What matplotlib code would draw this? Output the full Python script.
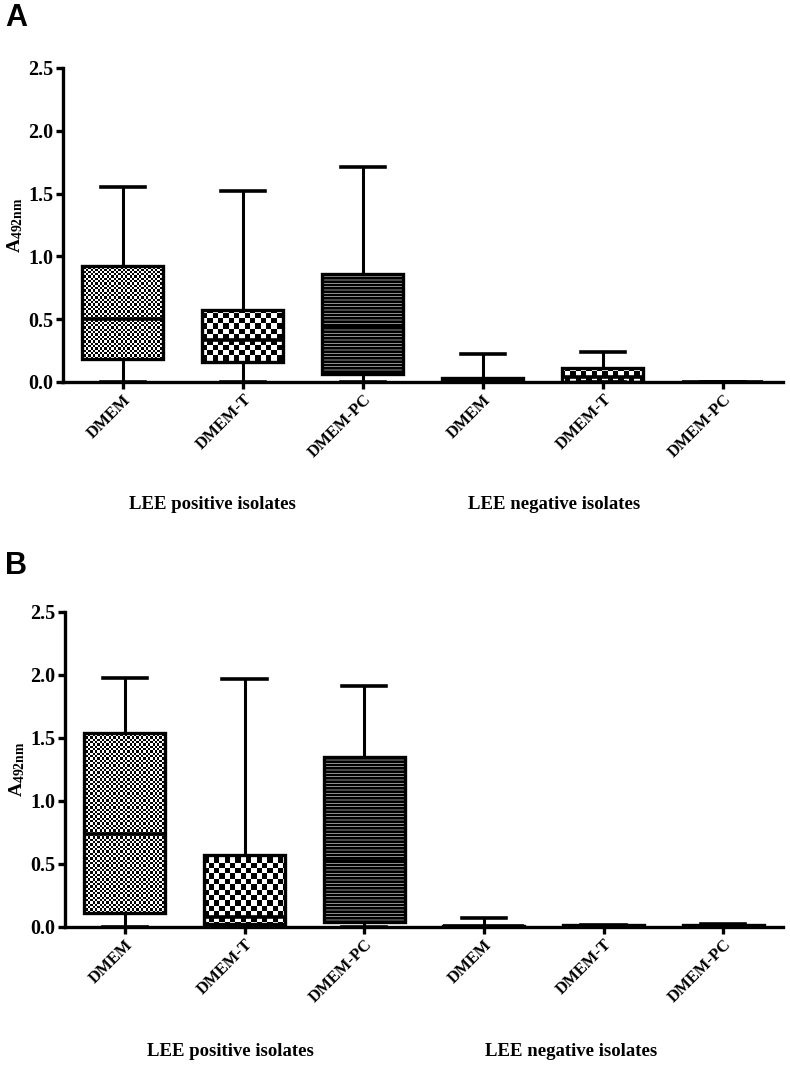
import numpy as np
import matplotlib
matplotlib.use('Agg')
import matplotlib.pyplot as plt

plt.rcParams['font.family'] = 'Liberation Serif'
plt.rcParams['font.weight'] = 'bold'
plt.rcParams['mathtext.fontset'] = 'custom'
plt.rcParams['mathtext.rm'] = 'Liberation Serif:bold'
plt.rcParams['mathtext.bf'] = 'Liberation Serif:bold'
plt.rcParams['hatch.linewidth'] = 2.0

cats = ['DMEM', 'DMEM-T', 'DMEM-PC', 'DMEM', 'DMEM-T', 'DMEM-PC']
groups = ['LEE positive isolates', 'LEE negative isolates']
fills = ['fine', 'coarse', 'lines', 'fine', 'coarse', 'lines']

# panel A box stats
A_lo = [0.0, 0.0, 0.0, 0.0, 0.0, 0.0]
A_q1 = [0.18, 0.16, 0.06, 0.0, 0.0, 0.0]
A_med = [0.50, 0.33, 0.44, 0.01, 0.04, 0.0]
A_q3 = [0.92, 0.57, 0.86, 0.03, 0.11, 0.0]
A_hi = [1.55, 1.52, 1.71, 0.22, 0.24, 0.0]

# panel B box stats
B_lo = [0.0, 0.0, 0.0, 0.0, 0.0, 0.0]
B_q1 = [0.11, 0.02, 0.04, 0.0, 0.0, 0.0]
B_med = [0.74, 0.08, 0.52, 0.005, 0.005, 0.005]
B_q3 = [1.54, 0.57, 1.35, 0.01, 0.012, 0.015]
B_hi = [1.98, 1.97, 1.91, 0.07, 0.015, 0.025]

yticks = [0.0, 0.5, 1.0, 1.5, 2.0, 2.5]


def checker(ax, patch, cell):
    bb = ax.get_window_extent()
    nx = int(bb.width / cell)
    ny = int(bb.height / cell)
    img = np.add.outer(np.arange(ny), np.arange(nx)) % 2
    xl, yl = ax.get_xlim(), ax.get_ylim()
    im = ax.imshow(img, cmap='gray', vmin=0, vmax=1, origin='lower',
                   extent=(xl[0], xl[1], yl[0], yl[1]), aspect='auto',
                   interpolation='nearest', zorder=2.5)
    im.set_clip_path(patch)
    ax.set_xlim(xl)
    ax.set_ylim(yl)


def panel(rect, lo, q1, med, q3, hi, letter, letter_y, grp_x, grp_y):
    ax = fig.add_axes(rect)
    ax.set_xlim(0.5, 6.5)
    ax.set_ylim(0, 2.5)
    stats = [dict(whislo=a, q1=b, med=c, q3=d, whishi=e)
             for a, b, c, d, e in zip(lo, q1, med, q3, hi)]
    pos = np.arange(1, len(cats) + 1)
    bp = ax.bxp(stats, positions=pos, widths=0.675, capwidths=0.37,
                showfliers=False, patch_artist=True, zorder=3,
                boxprops=dict(linewidth=2.4, edgecolor='black'),
                whiskerprops=dict(linewidth=2.2, color='black'),
                capprops=dict(linewidth=2.6, color='black'),
                medianprops=dict(linewidth=2.6, color='black'))
    for box, f in zip(bp['boxes'], fills):
        if f == 'lines':
            box.set_facecolor('white')
            box.set_hatch('-----')
        else:
            box.set_facecolor('none')
            checker(ax, box, 2.3 if f == 'fine' else 5.3)
    for s in ['top', 'right']:
        ax.spines[s].set_visible(False)
    for s in ['left', 'bottom']:
        ax.spines[s].set_linewidth(2.4)
    ax.set_xticks(pos)
    ax.set_xticklabels(cats, rotation=45, ha='right', va='top',
                       rotation_mode='anchor', fontsize=12, fontweight='bold')
    ax.set_yticks(yticks)
    ax.set_yticklabels(['%.1f' % v for v in yticks], fontsize=14.5,
                       fontweight='bold')
    ax.tick_params(length=5, width=2.4, pad=2)
    ax.set_ylabel(r'$\mathbf{A_{492nm}}$', fontsize=14, labelpad=2)
    for g, gx in zip(groups, grp_x):
        fig.text(gx, grp_y, g, ha='center', va='baseline', fontsize=13.5,
                 fontweight='bold')
    fig.text(0.006, letter_y, letter, fontsize=22, fontweight='bold',
             family='Liberation Sans', va='center')
    return ax


fig = plt.figure(figsize=(7.9, 10.66), dpi=100)
panel([0.0797, 0.6417, 0.9114, 0.2946], A_lo, A_q1, A_med, A_q3, A_hi, 'A',
      1 - 18 / 1066, [212 / 790, 554 / 790], 1 - 509 / 1066)
panel([0.0823, 0.1304, 0.9089, 0.2955], B_lo, B_q1, B_med, B_q3, B_hi, 'B',
      1 - 566 / 1066, [230 / 790, 571 / 790], 1 - 1056 / 1066)
fig.savefig('out.png', dpi=100)
